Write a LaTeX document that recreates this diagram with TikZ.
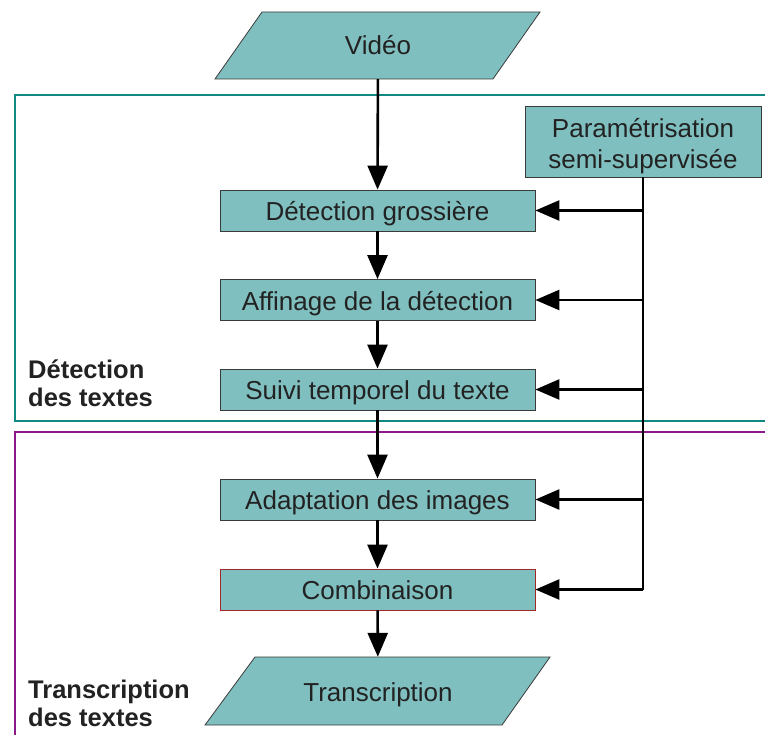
\documentclass[tikz,border=0pt]{standalone}
\usepackage{fontspec}
\setmainfont{Liberation Sans}
\usetikzlibrary{arrows.meta}
\definecolor{boxfill}{HTML}{80BFBF}
\definecolor{boxline}{HTML}{3A3A3A}
\definecolor{combline}{HTML}{A02828}
\definecolor{tealframe}{HTML}{108A80}
\definecolor{purpleframe}{HTML}{8A1A8A}
\definecolor{txt}{HTML}{222222}
\tikzset{
  box/.style={draw=boxline, line width=0.8pt, fill=boxfill, minimum width=315pt, minimum height=41pt, inner sep=0pt, text height=24pt, text depth=4pt, text=txt, font=\fontsize{26}{30}\selectfont},
  para/.style={minimum width=230pt, minimum height=67pt, inner sep=0pt, text=txt, font=\fontsize{26}{30}\selectfont},
  shapefill/.style={draw=boxline, line width=0.8pt, fill=boxfill},
  arr/.style={line width=2.6pt, -{Triangle[length=24pt,width=20pt]}},
  vline/.style={line width=2.6pt},
  grouplabel/.style={anchor=base west, align=left, inner sep=0pt, text=txt, font=\bfseries\fontsize{25.5}{28}\selectfont},
  frame/.style={line width=2.4pt}
}
\begin{document}
\begin{tikzpicture}[x=1pt,y=-1pt]
\useasboundingbox (0,0) rectangle (765,735);
\begin{scope}
\clip (0,0) rectangle (765,735);
\draw[frame, draw=tealframe] (15,95) rectangle (790,421);
\draw[frame, draw=purpleframe] (15,432) rectangle (790,770);
% Video parallelogram
\filldraw[shapefill] (262,12) -- (540,12) -- (493,79) -- (215,79) -- cycle;
\node[para] (video) at (378,45.5) {Vidéo};
% Transcription parallelogram
\filldraw[shapefill] (255,657) -- (550,657) -- (502,725) -- (205,725) -- cycle;
\node[para, minimum height=68pt, text height=24pt, text depth=3pt] (trans) at (378,691) {Transcription};
\end{scope}
\node[box, minimum width=236pt, minimum height=71pt, align=center, text height=, text depth=, font=\fontsize{26}{30}\selectfont] (param) at (643,141.5) {\rule{0pt}{28pt}Paramétrisation\\[1pt]semi-supervisée};
\node[box] (det) at (377.5,210.5) {Détection grossière};
\node[box] (aff) at (377.5,300) {Affinage de la détection};
\node[box] (suivi) at (377.5,389.5) {Suivi temporel du texte};
\node[box] (adapt) at (377.5,499.5) {Adaptation des images};
\node[box, draw=combline] (comb) at (377.5,589.5) {Combinaison};
\node[grouplabel] (lab1) at (28,406) {Détection\\des textes};
\node[grouplabel] (lab2) at (28,726) {Transcription\\des textes};
% main flow
\draw[arr] (video) -- (det);
\draw[arr] (det) -- (aff);
\draw[arr] (aff) -- (suivi);
\draw[arr] (suivi) -- (adapt);
\draw[arr] (adapt) -- (comb);
\draw[arr] (comb) -- (trans);
% parametrisation feed
\draw[vline] (param.south) -- (param.south |- comb.east);
\foreach \b in {det,aff,suivi,adapt,comb}{
  \draw[arr] (param.south |- \b.east) -- (\b.east);
}
\end{tikzpicture}
\end{document}
